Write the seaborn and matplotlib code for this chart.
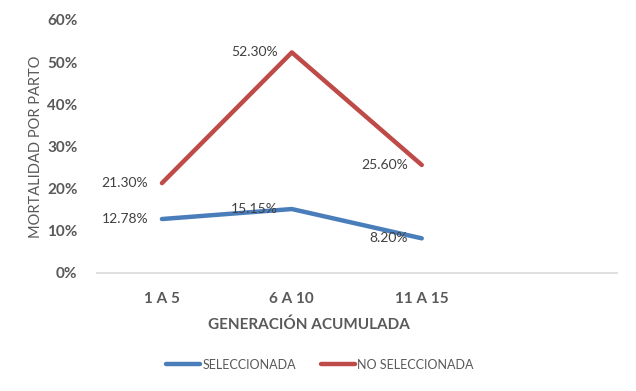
import pandas as pd
import matplotlib
matplotlib.use("Agg")
import matplotlib.pyplot as plt
import seaborn as sns
from matplotlib.ticker import PercentFormatter

# data
categories = ["1 A 5", "6 A 10", "11 A 15"]
seleccionada = [12.78, 15.15, 8.20]
no_seleccionada = [21.30, 52.30, 25.60]
series_names = ["SELECCIONADA", "NO SELECCIONADA"]

df = pd.DataFrame({
    "gen": categories * 2,
    "valor": seleccionada + no_seleccionada,
    "serie": [series_names[0]] * 3 + [series_names[1]] * 3,
})

sns.set_theme(style="white")
plt.rcParams["font.family"] = ["Lato", "DejaVu Sans"]
grey = "#595959"

fig = plt.figure(figsize=(6.36, 3.91), dpi=100)
ax = fig.add_axes([0.1525, 0.302, 0.817, 0.647])

colors = {"SELECCIONADA": "#4A7EBB", "NO SELECCIONADA": "#BE4B48"}
sns.lineplot(data=df, x="gen", y="valor", hue="serie", palette=colors,
             linewidth=3.2, sort=False, ax=ax, legend=False)

# data labels, to the left of each point
for vals in (seleccionada, no_seleccionada):
    for i, v in enumerate(vals):
        ax.annotate(f"{v:.2f}%", (i, v), xytext=(-10, 0), textcoords="offset points",
                    ha="right", va="center", fontsize=10, color="#404040")

ax.set_xlim(-0.5, 3.5)
ax.set_ylim(0, 60)
ax.set_yticks(range(0, 61, 10))
ax.yaxis.set_major_formatter(PercentFormatter(decimals=0))
ax.tick_params(axis="y", length=0, pad=14, labelsize=11, labelcolor=grey)
ax.tick_params(axis="x", length=0, pad=14, labelsize=11, labelcolor=grey)
for lab in ax.get_xticklabels() + ax.get_yticklabels():
    lab.set_fontweight("bold")

ax.set_xlabel("GENERACIÓN ACUMULADA", fontsize=11, fontweight="bold", color=grey, labelpad=8)
ax.xaxis.set_label_coords(0.408, -0.175)
ax.set_ylabel("MORTALIDAD POR PARTO", fontsize=10.5, color=grey, labelpad=3)

for side in ["top", "right", "left"]:
    ax.spines[side].set_visible(False)
ax.spines["bottom"].set_color("#D9D9D9")
ax.spines["bottom"].set_linewidth(1.2)

handles = [plt.Line2D([], [], color=colors[s], linewidth=3.2) for s in series_names]
fig.legend(handles, series_names, loc="center", bbox_to_anchor=(0.503, 0.067), ncol=2,
           frameon=False, fontsize=9, labelcolor=grey, handlelength=2.7,
           handletextpad=0.2, columnspacing=2.0)

fig.savefig("out.png", dpi=100)
